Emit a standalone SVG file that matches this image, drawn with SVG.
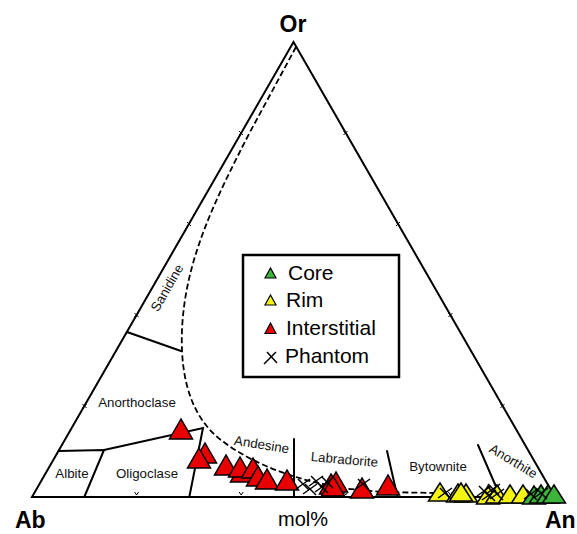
<svg xmlns="http://www.w3.org/2000/svg" xmlns:xlink="http://www.w3.org/1999/xlink" width="577" height="534" viewBox="0 0 577 534">
<style>
.ln{fill:none;stroke:#000;stroke-width:2;stroke-linecap:round}
.dash{fill:none;stroke:#000;stroke-width:1.8;stroke-dasharray:6,3}
.tk{fill:none;stroke:#000;stroke-width:1}
.lbl{font-family:"Liberation Sans",Arial,sans-serif;font-size:13.3px;fill:#111}
.ax{font-family:"Liberation Sans",Arial,sans-serif;font-size:23px;font-weight:bold;fill:#000}
.lg{font-family:"Liberation Sans",Arial,sans-serif;font-size:21px;fill:#000}
.r{fill:#e80000}
.y{fill:#f4f414}
.g{fill:#3cb43c}
.pt{stroke:#000;stroke-width:1.5;stroke-linejoin:miter}
.ph{fill:none;stroke:#000;stroke-width:1.5}
</style>
<defs>
<polygon id="tr" points="0,0 -11.5,20 11.5,20"/>
<polygon id="ty" points="0,0 -11.5,18 11.5,18"/>
<g id="x"><line x1="-7" y1="5" x2="7" y2="-5"/><line x1="-5" y1="-5" x2="6" y2="6"/></g>
</defs>
<rect width="577" height="534" fill="#fff"/>

<g id="frame">
<path class="ln" d="M293.5,42 L555,497 L32,497 Z"/>
</g>

<g id="ticks" class="tk">
<path d="M239,131 l4,4 M243,131 l-4,4 M187,222 l4,4 M191,222 l-4,4 M134.5,313 l4,4 M138.5,313 l-4,4 M82.5,404 l4,4 M86.5,404 l-4,4"/>
<path d="M343.5,131 l4,4 M347.5,131 l-4,4 M396,222 l4,4 M400,222 l-4,4 M448.5,313 l4,4 M452.5,313 l-4,4 M500.5,404 l4,4 M504.5,404 l-4,4"/>
<path d="M134.6,492 l2,3 l2,-3 M239.2,492 l2,3 l2,-3 M343.8,492 l2,3 l2,-3 M448.4,492 l2,3 l2,-3"/>
</g>

<g id="fields">
<path class="ln" d="M127,332 L181,351"/>
<path class="ln" d="M58.5,451 L104,450 L84.3,497"/>
<path class="ln" d="M104,450 L203,428 L189.3,497"/>
<path class="ln" d="M294,439 L294,497"/>
<path class="ln" d="M387,451 L397.5,497"/>
<path class="ln" d="M478,445 L500.5,497"/>
</g>

<g id="solvus">
<path class="dash" d="M296,47 L250,132 C215,200 185,260 182,330 C180,380 192,420 225,443 C255,465 300,482 350,489 L383,492 L435,493"/>
</g>

<g id="field-labels">
<text class="lbl" transform="translate(171,290) rotate(-60)" text-anchor="middle">Sanidine</text>
<text class="lbl" x="137" y="407" text-anchor="middle">Anorthoclase</text>
<text class="lbl" x="72" y="478" text-anchor="middle">Albite</text>
<text class="lbl" x="147" y="478" text-anchor="middle">Oligoclase</text>
<text class="lbl" transform="translate(261,449) rotate(9)" text-anchor="middle">Andesine</text>
<text class="lbl" transform="translate(344,464) rotate(5)" text-anchor="middle">Labradorite</text>
<text class="lbl" x="438" y="471" text-anchor="middle">Bytownite</text>
<text class="lbl" transform="translate(511,465) rotate(31)" text-anchor="middle">Anorthite</text>
</g>

<g id="interstitial" class="pt">
<use xlink:href="#tr" class="r" x="181" y="419"/>
<use xlink:href="#tr" class="r" x="205" y="443"/>
<use xlink:href="#tr" class="r" x="199" y="448"/>
<use xlink:href="#tr" class="r" x="226" y="455"/>
<use xlink:href="#tr" class="r" x="242" y="462"/>
<use xlink:href="#tr" class="r" x="240" y="457"/>
<use xlink:href="#tr" class="r" x="253" y="458"/>
<use xlink:href="#tr" class="r" x="258" y="466"/>
<use xlink:href="#tr" class="r" x="267" y="469"/>
<use xlink:href="#tr" class="r" x="287" y="470"/>
<use xlink:href="#tr" class="r" x="331" y="474"/>
<use xlink:href="#tr" class="r" x="336" y="472"/>
<use xlink:href="#tr" class="r" x="333" y="476"/>
<use xlink:href="#tr" class="r" x="362" y="478"/>
<use xlink:href="#tr" class="r" x="388" y="475"/>
</g>

<g id="rim" class="pt">
<use xlink:href="#ty" class="y" x="440" y="483"/>
<use xlink:href="#ty" class="y" x="458" y="484"/>
<use xlink:href="#ty" class="y" x="466" y="484"/>
<use xlink:href="#ty" class="y" x="461" y="483"/>
<use xlink:href="#ty" class="y" x="488" y="486"/>
<use xlink:href="#ty" class="y" x="497" y="485"/>
<use xlink:href="#ty" class="y" x="510" y="485"/>
<use xlink:href="#ty" class="y" x="523" y="485"/>
</g>

<g id="core" class="pt">
<use xlink:href="#ty" class="g" x="534" y="486"/>
<use xlink:href="#ty" class="g" x="541" y="485"/>
<use xlink:href="#ty" class="g" x="548" y="485"/>
<use xlink:href="#ty" class="g" x="554" y="485"/>
</g>

<g id="phantom" class="ph">
<use xlink:href="#x" x="303" y="484"/>
<use xlink:href="#x" x="310" y="489"/>
<use xlink:href="#x" x="316" y="481"/>
<use xlink:href="#x" x="322" y="487"/>
<use xlink:href="#x" x="327" y="482"/>
<use xlink:href="#x" x="363" y="484"/>
<use xlink:href="#x" x="445" y="493"/>
<use xlink:href="#x" x="484" y="491"/>
<use xlink:href="#x" x="489" y="495"/>
<use xlink:href="#x" x="493" y="489"/>
<use xlink:href="#x" x="497" y="494"/>
<use xlink:href="#x" x="531" y="494"/>
<use xlink:href="#x" x="541" y="493"/>
</g>

<g id="legend">
<rect x="243" y="255" width="156" height="122" fill="#fff" stroke="#000" stroke-width="2.5"/>
<polygon points="270.5,268 265,278 276,278" class="g" stroke="#000" stroke-width="1.2"/>
<text class="lg" x="288" y="280">Core</text>
<polygon points="270.5,295 265,305 276,305" class="y" stroke="#000" stroke-width="1.2"/>
<text class="lg" x="286" y="307">Rim</text>
<polygon points="270.5,323 265,333.5 276,333.5" class="r" stroke="#000" stroke-width="1.2"/>
<text class="lg" x="286" y="335">Interstitial</text>
<path d="M264,364 L276,352 M267,352 L277,363" fill="none" stroke="#000" stroke-width="1.5"/>
<text class="lg" x="285" y="363">Phantom</text>
</g>

<g id="axis-labels">
<text class="ax" x="293" y="32" text-anchor="middle">Or</text>
<text class="ax" x="15" y="528">Ab</text>
<text class="ax" x="545" y="528">An</text>
<text class="lg" x="303" y="526" text-anchor="middle" style="font-size:20px">mol%</text>
</g>
</svg>
